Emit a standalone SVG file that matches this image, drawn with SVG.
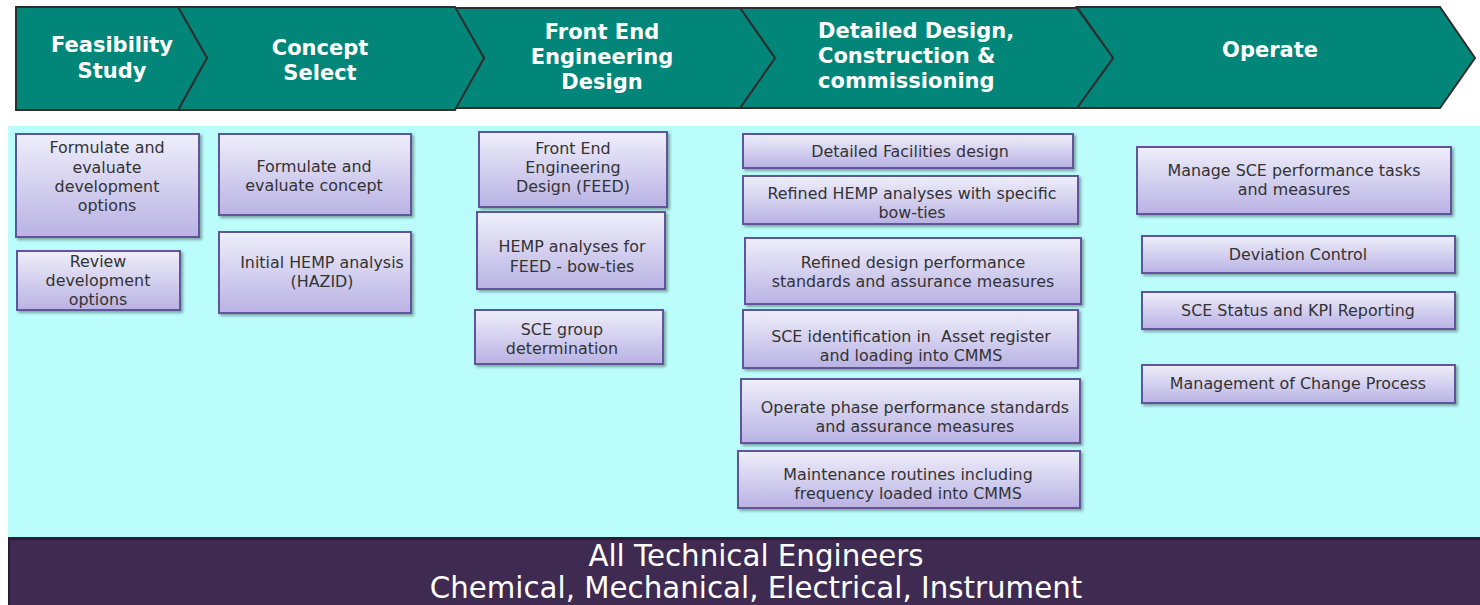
<svg xmlns="http://www.w3.org/2000/svg" width="1480" height="605" viewBox="0 0 1480 605">
<defs>
<linearGradient id="boxg" x1="0" y1="0" x2="0" y2="1">
<stop offset="0" stop-color="#EFEEFA"/>
<stop offset="1" stop-color="#B9B2E4"/>
</linearGradient>
<filter id="sh" x="-10%" y="-10%" width="120%" height="130%">
<feDropShadow dx="2" dy="2" stdDeviation="1.5" flood-color="#000" flood-opacity="0.35"/>
</filter>
<style>
.chev{fill:#02867A;stroke:#2E2E2E;stroke-width:2;stroke-linejoin:miter}
.ct{font-family:"DejaVu Sans",Verdana,sans-serif;font-weight:bold;font-size:21px;fill:#FFFFFF}
.box{fill:url(#boxg);stroke:#5E5598;stroke-width:2;filter:url(#sh)}
.bt{font-family:"DejaVu Sans",Verdana,sans-serif;font-size:15.9px;fill:#333333;text-anchor:middle}
.ft{font-family:"DejaVu Sans",Verdana,sans-serif;font-size:29.3px;fill:#FFFFFF;text-anchor:middle}
</style>
</defs>
<rect width="1480" height="605" fill="#FFFFFF"/>
<rect x="8" y="126" width="1472" height="411" fill="#BAFDFB"/>

<g id="phase-operate">
<polygon class="chev" points="1077,7 1440,7 1475,58 1440,108 1077,108 1113,58"/>
<text class="ct" x="1270" y="57" text-anchor="middle">Operate</text>
</g>
<g id="phase-detailed">
<polygon class="chev" points="740,8 1077,8 1113,58 1077,108 740,108 775,58"/>
<text class="ct" x="818" y="38">Detailed Design,</text>
<text class="ct" x="818" y="63">Construction &amp;</text>
<text class="ct" x="818" y="88">commissioning</text>
</g>
<g id="phase-feed">
<polygon class="chev" points="455,8 740,8 775,58 740,108 455,108 484,58"/>
<text class="ct" x="602" y="39" text-anchor="middle">Front End</text>
<text class="ct" x="602" y="64" text-anchor="middle">Engineering</text>
<text class="ct" x="602" y="89" text-anchor="middle">Design</text>
</g>
<g id="phase-concept">
<polygon class="chev" points="178,7 455,7 484,58 455,110 178,110 207,58"/>
<text class="ct" x="320" y="55" text-anchor="middle">Concept</text>
<text class="ct" x="320" y="80" text-anchor="middle">Select</text>
</g>
<g id="phase-feasibility">
<polygon class="chev" points="16,7 178,7 207,58 178,110 16,110"/>
<text class="ct" x="112" y="52" text-anchor="middle">Feasibility</text>
<text class="ct" x="112" y="78" text-anchor="middle">Study</text>
</g>

<g id="connectors"></g>

<g id="box-formulate-options">
<rect class="box" x="16" y="134" width="183" height="103"/>
<text class="bt" x="107" y="153">Formulate and</text>
<text class="bt" x="107" y="173">evaluate</text>
<text class="bt" x="107" y="192">development</text>
<text class="bt" x="107" y="211">options</text>
</g>
<g id="box-review-options">
<rect class="box" x="17" y="251" width="163" height="59"/>
<text class="bt" x="98" y="267">Review</text>
<text class="bt" x="98" y="286">development</text>
<text class="bt" x="98" y="305">options</text>
</g>
<g id="box-formulate-concept">
<rect class="box" x="219" y="134" width="192" height="81"/>
<text class="bt" x="314" y="172">Formulate and</text>
<text class="bt" x="314" y="191">evaluate concept</text>
</g>
<g id="box-initial-hemp">
<rect class="box" x="219" y="232" width="192" height="81"/>
<text class="bt" x="322" y="268">Initial HEMP analysis</text>
<text class="bt" x="322" y="287">(HAZID)</text>
</g>

<g id="box-feed">
<rect class="box" x="479" y="132" width="188" height="75"/>
<text class="bt" x="573" y="154">Front End</text>
<text class="bt" x="573" y="173">Engineering</text>
<text class="bt" x="573" y="192">Design (FEED)</text>
</g>
<g id="box-hemp-feed">
<rect class="box" x="477" y="212" width="188" height="77"/>
<text class="bt" x="572" y="252">HEMP analyses for</text>
<text class="bt" x="572" y="272">FEED - bow-ties</text>
</g>
<g id="box-sce-group">
<rect class="box" x="475" y="310" width="188" height="54"/>
<text class="bt" x="562" y="335">SCE group</text>
<text class="bt" x="562" y="354">determination</text>
</g>

<g id="box-detailed-facilities">
<rect class="box" x="743" y="134" width="330" height="34"/>
<text class="bt" x="910" y="157">Detailed Facilities design</text>
</g>
<g id="box-refined-hemp">
<rect class="box" x="743" y="176" width="335" height="48"/>
<text class="bt" x="912" y="199">Refined HEMP analyses with specific</text>
<text class="bt" x="912" y="218">bow-ties</text>
</g>
<g id="box-refined-design">
<rect class="box" x="745" y="238" width="336" height="66"/>
<text class="bt" x="913" y="268">Refined design performance</text>
<text class="bt" x="913" y="287">standards and assurance measures</text>
</g>
<g id="box-sce-identification">
<rect class="box" x="743" y="310" width="335" height="58"/>
<text class="bt" x="911" y="342" xml:space="preserve">SCE identification in  Asset register</text>
<text class="bt" x="911" y="361">and loading into CMMS</text>
</g>
<g id="box-operate-standards">
<rect class="box" x="741" y="379" width="339" height="64"/>
<text class="bt" x="915" y="413">Operate phase performance standards</text>
<text class="bt" x="915" y="432">and assurance measures</text>
</g>
<g id="box-maintenance">
<rect class="box" x="738" y="451" width="342" height="57"/>
<text class="bt" x="908" y="480">Maintenance routines including</text>
<text class="bt" x="908" y="499">frequency loaded into CMMS</text>
</g>

<g id="box-manage-sce">
<rect class="box" x="1137" y="147" width="314" height="67"/>
<text class="bt" x="1294" y="176">Manage SCE performance tasks</text>
<text class="bt" x="1294" y="195">and measures</text>
</g>
<g id="box-deviation">
<rect class="box" x="1142" y="236" width="313" height="37"/>
<text class="bt" x="1298" y="260">Deviation Control</text>
</g>
<g id="box-sce-status">
<rect class="box" x="1142" y="292" width="313" height="37"/>
<text class="bt" x="1298" y="316">SCE Status and KPI Reporting</text>
</g>
<g id="box-moc">
<rect class="box" x="1142" y="365" width="313" height="38"/>
<text class="bt" x="1298" y="389">Management of Change Process</text>
</g>

<g id="footer">
<rect x="8" y="537" width="1472" height="68" fill="#3F2A52"/>
<rect x="8" y="537" width="1472" height="3" fill="#2A1E36"/>
<rect x="8" y="537" width="2" height="68" fill="#2A1E36"/>
<text class="ft" x="756" y="566">All Technical Engineers</text>
<text class="ft" x="756" y="598">Chemical, Mechanical, Electrical, Instrument</text>
</g>
</svg>
